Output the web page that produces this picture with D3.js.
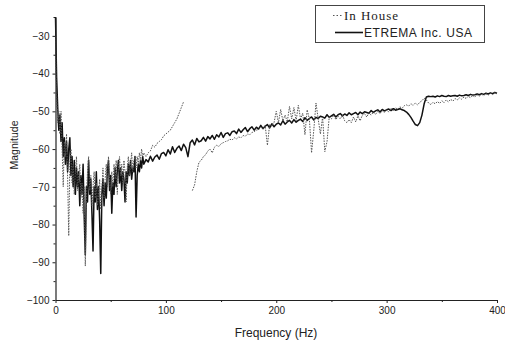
<!DOCTYPE html>
<html><head><meta charset="utf-8">
<script src="https://cdn.jsdelivr.net/npm/d3@7"></script>
<style>body{margin:0;background:#fff}svg{display:block}</style></head>
<body><svg id="c" width="505" height="343"></svg>
<script>
// Frequency grids: low band 0..80 Hz every 1 Hz, high band 82..400 Hz every 2 Hz
const lowStart = 0, lowStep = 1, highStart = 82, highStep = 2;

const etremaLow = [
-25,-41,-49,-55,-51,-58,-53,-62,-57,-64,
-58,-66,-60,-57,-67,-62,-70,-63,-72,-65,
-70,-66,-75,-67,-72,-64,-78,-88,-70,-74,
-63,-72,-68,-77,-87,-70,-74,-66,-76,-70,
-79,-93,-72,-68,-75,-69,-73,-66,-63,-71,
-67,-77,-69,-72,-65,-70,-66,-63,-69,-65,
-71,-66,-68,-74,-66,-69,-64,-67,-63,-68,
-65,-66,-62,-78,-67,-64,-66,-63,-65,-62,
-64];
const etremaHigh = [
-62.8,-63.4,-61.9,-63.2,-62.1,-61.6,-62.7,-61.2,-60.9,-61.8,
-60.2,-61.3,-59.4,-60.9,-59.8,-59.2,-60.4,-58.7,-59.6,-62,
-58.3,-57.6,-58.9,-57.2,-58.1,-57.8,-56.9,-57.9,-56.7,-57.3,
-56.4,-57.4,-56.2,-56.8,-55.6,-56.9,-55.9,-55.7,-56.4,-55.4,
-55.2,-55.9,-54.7,-55.6,-54.9,-54.3,-55.4,-54.6,-54.1,-55,
-54.2,-54.7,-53.7,-54.6,-53.9,-53.5,-54.4,-53.3,-54.1,-53.4,
-53.1,-53.6,-52.5,-53.4,-52.8,-52.4,-53.1,-52.2,-52.9,-52.4,
-52.1,-52.7,-51.7,-52.4,-51.9,-51.5,-52.3,-51.6,-51.9,-51.3,
-51.5,-51.8,-50.9,-51.6,-51.2,-50.8,-51.5,-50.9,-50.6,-51.2,
-50.7,-51.1,-50.4,-50.9,-50.6,-50.3,-50.9,-50.2,-50.6,-50.1,
-50.3,-50.5,-49.8,-50.3,-49.9,-49.6,-50.2,-49.5,-49.9,-49.6,
-49.4,-49.8,-49.3,-49.7,-49.5,-49.3,-49.6,-49.8,-50.2,-50.8,
-51.6,-52.6,-53.5,-53.8,-53,-51,-48,-46.2,-46,-46.1,
-46,-46.2,-45.9,-46.1,-45.8,-46,-46.1,-45.8,-46,-45.9,
-45.8,-46,-45.7,-45.9,-45.8,-45.6,-45.8,-45.5,-45.7,-45.6,
-45.4,-45.6,-45.3,-45.5,-45.2,-45.4,-45.1,-45.3,-45,-45.2];

const inHouseLow = [
-30,-45,-53,-50,-56,-50,-60,-70,-58,-62,
-56,-68,-83,-64,-60,-69,-64,-72,-66,-62,
-71,-67,-64,-73,-69,-77,-70,-91,-73,-66,
-62,-71,-67,-75,-70,-66,-73,-69,-75,-72,
-68,-76,-71,-65,-73,-68,-64,-70,-62,-68,
-72,-66,-70,-64,-68,-63,-72,-65,-62,-67,
-64,-69,-63,-66,-74,-65,-62,-67,-64,-61,
-66,-63,-62,-65,-62,-64,-61,-63,-60,-62,
-61];
const inHouseHigh = [
-62,-61,-60.5,-59,-59.5,-58.5,-58,-57.5,-56.5,-56,
-55.5,-55,-54,-53,-52,-50.5,-49,-47.5,null,null,
null,-71,-69.5,-66,-63.5,-63,-62,-61.5,-60.5,-60,
-61,-59.5,-59,-59.3,-58.6,-58.3,-58,-57.8,-57.4,-57.6,
-57,-57.3,-56.8,-57,-56.4,-56.6,-56,-56.2,-55.6,-55.4,
-55,-54.8,-54.2,-54.6,-53.8,-59,-53.5,-53.9,-53,-50,
-53,-49.5,-52.5,-51,-52.8,-48.7,-52,-49,-52.5,-48.4,
-52,-50.5,-56.2,-49.6,-52,-61,-55,-47.8,-52,-56,
-51.5,-60.7,-58,-51.5,-52,-51,-52.2,-51.3,-52,-51,
-52.5,-53,-52.2,-53,-51.5,-52.8,-51.2,-52.5,-51,-50.6,
-51.5,-50.4,-51,-50.2,-50.8,-50,-50.6,-49.8,-50.3,-49.6,
-50.2,-49.2,-49.8,-49,-49.5,-48.8,-49.2,-48.5,-48.3,-48.6,
-48,-48.4,-47.8,-48.3,-47.6,-47.2,-46.5,-47,-47.8,-48.2,
-47.6,-48,-47.4,-47.9,-47.2,-47.7,-47,-47.5,-46.8,-47.3,
-46.6,-47,-46.4,-46.8,-46.2,-46.6,-46,-46.4,-45.8,-46.2,
-45.6,-46,-45.5,-45.8,-45.3,-45.7,-45.2,-45.6,-45,-45.4];

const seriesNames = ["In House", "ETREMA Inc. USA"];
const xTicks = [0, 100, 200, 300, 400];
const xMinorTicks = [50, 150, 250, 350];
const yTicks = [-100, -90, -80, -70, -60, -50, -40, -30];
const yMinorTicks = [-95, -85, -75, -65, -55, -45, -35, -25];
const xLabel = "Frequency (Hz)", yLabel = "Magnitude";

function build(low, high) {
  const pts = [];
  low.forEach((v, i) => pts.push({ f: lowStart + i * lowStep, v }));
  high.forEach((v, i) => pts.push({ f: highStart + i * highStep, v }));
  return pts;
}
const etrema = build(etremaLow, etremaHigh);
const inHouse = build(inHouseLow, inHouseHigh);

const svg = d3.select("#c");
const x = d3.scaleLinear().domain([0, 400]).range([55.5, 497]);
const y = d3.scaleLinear().domain([-100, -25]).range([300, 17]);

const line = d3.line().defined(d => d.v !== null).x(d => x(d.f)).y(d => y(d.v));

// series
svg.append("path").datum(etrema).attr("d", line)
  .attr("fill", "none").attr("stroke", "#111").attr("stroke-width", 1.5).attr("stroke-linejoin", "round");
svg.append("path").datum(inHouse).attr("d", line)
  .attr("fill", "none").attr("stroke", "#555").attr("stroke-width", 1).attr("stroke-dasharray", "1.5,1.2");

// axes
const font = "Liberation Sans, Arial, sans-serif";
const gx = svg.append("g").attr("transform", "translate(0,300)")
  .call(d3.axisBottom(x).tickValues(xTicks).tickSize(3).tickSizeOuter(0).tickPadding(4));
const gy = svg.append("g").attr("transform", "translate(55.5,0)")
  .call(d3.axisLeft(y).tickValues(yTicks).tickSize(3).tickSizeOuter(0).tickPadding(3));
svg.append("g").attr("transform", "translate(0,300)")
  .call(d3.axisBottom(x).tickValues(xMinorTicks).tickSize(2).tickSizeOuter(0).tickFormat(""))
  .select(".domain").remove();
svg.append("g").attr("transform", "translate(55.5,0)")
  .call(d3.axisLeft(y).tickValues(yMinorTicks).tickSize(2).tickSizeOuter(0).tickFormat(""))
  .select(".domain").remove();
[gx, gy].forEach(g => {
  g.select(".domain").attr("stroke", "#222").attr("stroke-width", 1.2);
  g.selectAll("text").attr("font-family", font).attr("font-size", 10).attr("fill", "#222");
});
svg.selectAll(".tick line").attr("stroke", "#222");

svg.append("text").attr("x", 276).attr("y", 337).attr("text-anchor", "middle")
  .attr("font-family", font).attr("font-size", 12).attr("fill", "#222").text(xLabel);
svg.append("text").attr("transform", "translate(18,145) rotate(-90)").attr("text-anchor", "middle")
  .attr("font-family", font).attr("font-size", 10.5).attr("fill", "#222").text(yLabel);

// legend
const lg = svg.append("g");
lg.append("rect").attr("x", 315.5).attr("y", 5.5).attr("width", 169).attr("height", 37)
  .attr("fill", "#fff").attr("stroke", "#444").attr("stroke-width", 1);
lg.append("line").attr("x1", 333).attr("x2", 343).attr("y1", 15.5).attr("y2", 15.5)
  .attr("stroke", "#555").attr("stroke-width", 1).attr("stroke-dasharray", "1.5,2");
lg.append("text").attr("x", 344).attr("y", 20).attr("font-family", "Liberation Serif, Times New Roman, serif")
  .attr("font-size", 13).attr("fill", "#222").attr("textLength", 54).text(seriesNames[0]);
lg.append("line").attr("x1", 335).attr("x2", 363).attr("y1", 32.5).attr("y2", 32.5)
  .attr("stroke", "#111").attr("stroke-width", 1.6);
lg.append("text").attr("x", 364).attr("y", 37).attr("font-family", font)
  .attr("font-size", 12).attr("fill", "#222").attr("textLength", 108).text(seriesNames[1]);
</script></body></html>
